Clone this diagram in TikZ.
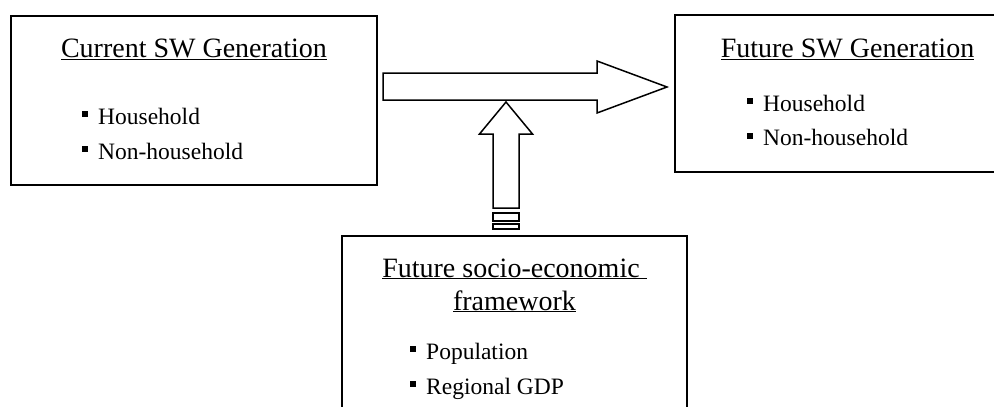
\documentclass[tikz,border=0pt]{standalone}
\usepackage{fontspec}
\setmainfont{Liberation Serif}

% small filled square used as list bullet
\newcommand{\sqitem}{\rule[7pt]{6pt}{6pt}\hspace{10pt}}

\begin{document}
\begin{tikzpicture}[
        x=1pt, y=-1pt,
        box/.style={rectangle, draw, line width=1.6pt, inner sep=0pt},
        title/.style={inner sep=0pt, anchor=base, font=\fontsize{28}{33}\selectfont},
        item/.style={inner sep=0pt, anchor=base west, font=\fontsize{23.5}{28}\selectfont},
        blockarrow/.style={draw, line width=1.5pt, fill=white, line join=miter}
    ]
        \useasboundingbox (0,0) rectangle (994,407);
        \clip (0,0) rectangle (994,407);

        % Current generation
        \node[box, minimum width=366, minimum height=169] (current) at (194,100.5) {};
        \node[title] (cur_title) at (194,57) {\underline{Current SW Generation}};
        \node[item] (cur_hh) at (82,124) {\sqitem Household};
        \node[item] (cur_nhh) at (82,159) {\sqitem Non-household};

        % Future generation (runs off the right side)
        \node[box, minimum width=335, minimum height=157] (future) at (842.5,93.5) {};
        \node[title] (fut_title) at (847.5,57) {\underline{Future SW Generation}};
        \node[item] (fut_hh) at (747,111) {\sqitem Household};
        \node[item] (fut_nhh) at (747,145.5) {\sqitem Non-household};

        % Socio-economic framework (runs off the bottom)
        \node[box, minimum width=345, minimum height=194] (socio) at (514.5,333) {};
        \node[title] (soc_title1) at (514.5,277) {\underline{Future socio-economic\ }};
        \node[title] (soc_title2) at (514.5,310) {\underline{framework}};
        \node[item] (soc_pop) at (410,359) {\sqitem Population};
        \node[item] (soc_gdp) at (410,394) {\sqitem Regional GDP};

        % Block arrow: current -> future
        \coordinate (trend_tail) at (383,86.5);
        \coordinate (trend_tip) at (667,87);
        \draw[blockarrow] (trend_tail) ++(0,-13.5) -- ++(214,0) -- ++(0,-12) -- (trend_tip)
            -- ++(-70,26) -- ++(0,-13) -- ++(-214,0) -- cycle;

        % Striped block arrow: framework -> trend arrow
        \coordinate (drive_tail) at (506,208);
        \coordinate (drive_tip) at (506,102);
        \draw[blockarrow] (drive_tail) ++(-13,0) -- ++(0,-74) -- ++(-13.5,0) -- (drive_tip)
            -- ++(26.5,32) -- ++(-13.5,0) -- ++(0,74) -- cycle;
        \draw[blockarrow] (drive_tail) ++(-13,5) rectangle ++(26,8);
        \draw[blockarrow] (drive_tail) ++(-13,16) rectangle ++(26,5);
    \end{tikzpicture}
\end{document}
